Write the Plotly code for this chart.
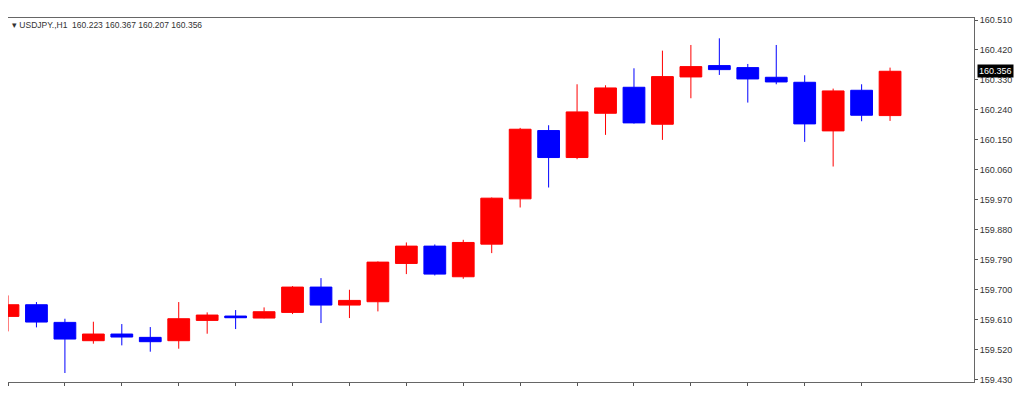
import plotly.graph_objects as go

# hourly USDJPY candles (red = up, blue = down)
bars = list(range(32))
opens = [159.620, 159.655, 159.602, 159.547, 159.567, 159.557, 159.547, 159.608,
         159.621, 159.615, 159.632, 159.708, 159.654, 159.664, 159.779, 159.831,
         159.739, 159.837, 159.973, 160.178, 160.097, 160.230, 160.308, 160.197,
         160.339, 160.373, 160.367, 160.338, 160.323, 160.177, 160.299, 160.223]
highs = [159.683, 159.663, 159.613, 159.604, 159.597, 159.588, 159.663, 159.632,
         159.639, 159.647, 159.711, 159.735, 159.700, 159.785, 159.842, 159.836,
         159.850, 159.977, 160.186, 160.194, 160.317, 160.314, 160.365, 160.418,
         160.435, 160.455, 160.378, 160.435, 160.344, 160.304, 160.317, 160.367]
lows = [159.575, 159.587, 159.450, 159.538, 159.533, 159.514, 159.523, 159.568,
        159.582, 159.614, 159.627, 159.600, 159.615, 159.635, 159.747, 159.743,
        159.733, 159.810, 159.947, 160.007, 160.092, 160.165, 160.199, 160.150,
        160.275, 160.345, 160.262, 160.317, 160.144, 160.070, 160.206, 160.207]
closes = [159.655, 159.603, 159.552, 159.567, 159.558, 159.544, 159.613, 159.624,
          159.616, 159.634, 159.708, 159.654, 159.668, 159.783, 159.831, 159.747,
          159.842, 159.975, 160.182, 160.097, 160.234, 160.306, 160.201, 160.340,
          160.370, 160.361, 160.333, 160.324, 160.198, 160.297, 160.224, 160.356]
price_ticks = [159.430, 159.520, 159.610, 159.700, 159.790, 159.880, 159.970,
               160.060, 160.150, 160.240, 160.330, 160.420, 160.510]
last_price = 160.356
header = "USDJPY.,H1  160.223 160.367 160.207 160.356"

fig = go.Figure(go.Candlestick(
    x=bars, open=opens, high=highs, low=lows, close=closes,
    increasing=dict(line=dict(color="#ff0000", width=1), fillcolor="#ff0000"),
    decreasing=dict(line=dict(color="#0000ff", width=1), fillcolor="#0000ff"),
    whiskerwidth=0,
    hoverinfo="skip",
))

# page body keeps its 8px margin, so the figure is 8px smaller each way
fig.update_layout(
    width=1016, height=394,
    margin=dict(l=0, r=50, t=10, b=20),
    boxgap=0.15, boxgroupgap=0.1,
    paper_bgcolor="white", plot_bgcolor="white",
    showlegend=False,
    font=dict(family="Liberation Sans", size=9, color="#333333"),
    xaxis=dict(
        range=[0, 33.95], rangeslider=dict(visible=False),
        showgrid=False, zeroline=False,
        tickmode="array", tickvals=bars[::2], showticklabels=False,
        ticks="outside", ticklen=3, tickcolor="#555555",
        showline=True, linecolor="#666666", linewidth=1, mirror=True,
    ),
    yaxis=dict(
        side="right", range=[159.423, 160.516],
        tickmode="array", tickvals=price_ticks,
        ticktext=["%.3f" % v for v in price_ticks],
        showgrid=False, zeroline=False,
        ticks="outside", ticklen=3, tickcolor="#555555",
        showline=True, linecolor="#666666", linewidth=1,
        tickfont=dict(size=9, color="#333333"),
    ),
    annotations=[
        dict(xref="paper", yref="paper", x=0.002, y=1.0,
             xanchor="left", yanchor="top", showarrow=False,
             text="\u25BE " + header,
             font=dict(size=8.5, color="#333333")),
        dict(xref="paper", yref="y", x=1, y=last_price,
             xanchor="left", yanchor="middle", xshift=3, showarrow=False,
             text="%.3f" % last_price, bgcolor="black",
             font=dict(size=9, color="white"), borderpad=1),
    ],
)

fig.write_html("out.html")
